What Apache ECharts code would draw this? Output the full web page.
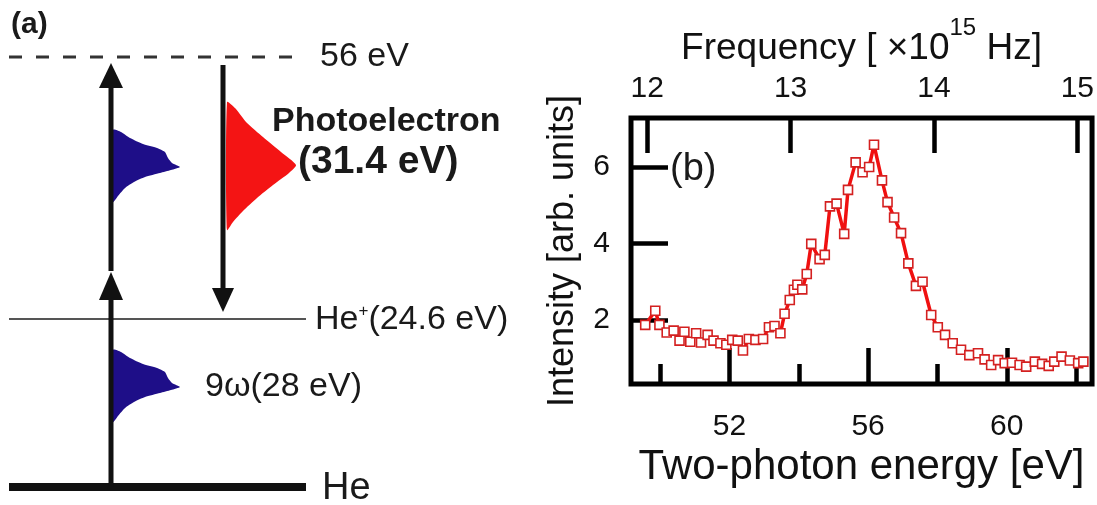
<!DOCTYPE html>
<html><head><meta charset="utf-8">
<script src="https://cdn.jsdelivr.net/npm/echarts@6/dist/echarts.min.js"></script>
<style>html,body{margin:0;padding:0;background:#fff}#c{width:1097px;height:505px}</style>
</head><body><div id="c"></div>
<script>
// ---------- Panel (b) data ----------
const energy = [49.57,49.86,49.98,50.19,50.39,50.56,50.70,50.87,51.04,51.18,51.37,51.54,51.74,51.91,52.08,52.24,52.39,52.56,52.75,52.97,53.14,53.30,53.47,53.59,53.74,53.86,53.96,54.10,54.23,54.36,54.60,54.75,54.90,55.09,55.31,55.42,55.64,55.84,56.03,56.17,56.40,56.56,56.75,56.95,57.16,57.38,57.57,57.82,58.01,58.22,58.44,58.68,58.92,59.17,59.36,59.55,59.75,59.94,60.15,60.37,60.56,60.81,61.02,61.21,61.37,61.58,61.82,62.06,62.21];
const intensity = [1.87,2.24,1.87,1.67,1.72,1.46,1.69,1.43,1.65,1.41,1.61,1.46,1.39,1.35,1.48,1.46,1.20,1.50,1.48,1.50,1.81,1.84,1.65,2.16,2.52,2.79,2.92,2.80,3.20,3.99,3.59,3.70,4.97,5.04,4.25,5.40,6.12,5.86,6.00,6.58,5.65,5.08,4.68,4.27,3.48,2.89,3.00,2.13,1.81,1.61,1.39,1.22,1.08,1.13,0.97,0.82,0.95,0.87,0.88,0.82,0.78,0.91,0.85,0.80,0.91,1.04,0.94,0.87,0.91];
const energyMajorTicks = [52, 56, 60];
const energyMinorTicks = [50, 54, 58, 62];
const intensityTicks = [2, 4, 6];
const freqTicks = [12, 13, 14, 15];
const H_EV_PER_PHZ = 4.135667; // eV per 10^15 Hz
const energyRange = [49.16, 62.46];
const intensityRange = [0.325, 7.28];

// ---------- Panel (a) schematic data (diagram units) ----------
const levelNames = ['He', 'He+', '56 eV'];
const levelHeights = [0, 168, 430];
const arrowX = [111, 111, 223];
const arrowFrom = [0, 216, 422];
const arrowTo = [215, 424, 175];
const blueProfile = [[-37,0],[-35,8],[-29,17],[-23,30],[-19,44],[-15,52],[-9,55],[-4,59],[0,67],[3,58],[6,47],[10,32],[15,21],[21,12],[29,5],[35,0]];
const redProfile = [[-63,0],[-57,8],[-42,20],[-28,36],[-13,54],[0,69],[8,62],[20,46],[33,30],[46,16],[57,6],[65,0]];
const spectraBase = [113, 113, 227];
const spectraPeak = [320, 100, 322];
const spectraProfile = [0, 0, 1];

const FONT = 'Liberation Sans, Arial, Helvetica, sans-serif';
const profiles = [blueProfile, redProfile];
const spectraColors = ['#1e0e88', '#f41414'];
const levelStyles = [
  {stroke:'#111', lineWidth:8},
  {stroke:'#555', lineWidth:2},
  {stroke:'#333', lineWidth:3, lineDash:[13,14]}
];
const levelSpan = [9, 306];
const headLen = [28, 25, 24];
const headWid = [24, 24, 22];

const chart = echarts.init(document.getElementById('c'), null, {renderer:'canvas'});

const tickStyle = {color:'#000', width:4.5};
const option = {
  animation: false,
  backgroundColor: '#fff',
  grid: [
    {left:631, top:118, width:462, height:266, show:true, borderColor:'#000', borderWidth:5, backgroundColor:'transparent'},
    {left:0, top:0, width:560, height:505, show:false}
  ],
  xAxis: [
    {type:'value', gridIndex:0, position:'bottom', min:energyRange[0], max:energyRange[1],
     axisLine:{show:false}, splitLine:{show:false},
     axisTick:{show:true, inside:true, length:36, customValues:energyMajorTicks, lineStyle:tickStyle},
     axisLabel:{show:true, customValues:energyMajorTicks, fontSize:30, color:'#111', fontFamily:FONT, margin:28},
     name:'Two-photon energy [eV]', nameLocation:'middle', nameGap:61,
     nameTextStyle:{fontSize:42, color:'#111', fontFamily:FONT}},
    {type:'value', gridIndex:0, position:'bottom', min:energyRange[0], max:energyRange[1],
     axisLine:{show:false}, splitLine:{show:false},
     axisTick:{show:true, inside:true, length:20, customValues:energyMinorTicks, lineStyle:tickStyle},
     axisLabel:{show:false}},
    {type:'value', gridIndex:0, position:'top', min:energyRange[0]/H_EV_PER_PHZ, max:energyRange[1]/H_EV_PER_PHZ,
     axisLine:{show:false}, splitLine:{show:false},
     axisTick:{show:true, inside:true, length:35, customValues:freqTicks, lineStyle:tickStyle},
     axisLabel:{show:true, customValues:freqTicks, fontSize:30, color:'#111', fontFamily:FONT, margin:14},
     name:'{m|Frequency [ ×10}{s|15}{m| Hz]}', nameLocation:'middle', nameGap:36,
     nameTextStyle:{rich:{
       m:{fontSize:37, lineHeight:66, color:'#111', fontFamily:FONT},
       s:{fontSize:24, verticalAlign:'top', color:'#111', fontFamily:FONT}
     }}},
    {type:'value', gridIndex:1, min:0, max:560, show:false}
  ],
  yAxis: [
    {type:'value', gridIndex:0, min:intensityRange[0], max:intensityRange[1],
     axisLine:{show:false}, splitLine:{show:false},
     axisTick:{show:true, inside:true, length:37, customValues:intensityTicks, lineStyle:tickStyle},
     axisLabel:{show:true, customValues:intensityTicks, fontSize:30, color:'#111', fontFamily:FONT, margin:21, padding:[8,0,0,0]},
     name:'Intensity [arb. units]', nameLocation:'middle', nameGap:50, nameRotate:90,
     nameTextStyle:{fontSize:36, color:'#111', fontFamily:FONT}},
    {type:'value', gridIndex:1, min:-18, max:487, show:false}
  ],
  series: [
    {type:'line', xAxisIndex:0, yAxisIndex:0, data: energy.map((e,i)=>[e, intensity[i]]),
     symbol:'rect', symbolSize:9, showAllSymbol:true,
     itemStyle:{color:'#fff', borderColor:'#d42020', borderWidth:1.6},
     lineStyle:{color:'#f01010', width:3.5}, emphasis:{disabled:true}, z:3},
    {type:'custom', coordinateSystem:'cartesian2d', xAxisIndex:3, yAxisIndex:1,
     data: levelHeights.map((h,i)=>[h, i]),
     renderItem:(params, api)=>{
       const y = api.value(0); const i = params.dataIndex;
       const p1 = api.coord([levelSpan[0], y]); const p2 = api.coord([levelSpan[1], y]);
       return {type:'line', shape:{x1:p1[0], y1:p1[1], x2:p2[0], y2:p2[1]}, style:levelStyles[i]};
     }},
    {type:'custom', coordinateSystem:'cartesian2d', xAxisIndex:3, yAxisIndex:1,
     data: spectraBase.map((b,i)=>[b, spectraPeak[i], spectraProfile[i]]),
     renderItem:(params, api)=>{
       const bx = api.value(0), py = api.value(1), pi = api.value(2);
       const pts = profiles[pi].map(([dy,w])=>api.coord([bx + w, py - dy]));
       return {type:'polygon', shape:{points:pts, smooth:0.2}, style:{fill:spectraColors[pi]}};
     }},
    {type:'custom', coordinateSystem:'cartesian2d', xAxisIndex:3, yAxisIndex:1,
     data: arrowX.map((x,i)=>[x, arrowFrom[i], arrowTo[i]]),
     renderItem:(params, api)=>{
       const i = params.dataIndex;
       const x = api.value(0), y0 = api.value(1), y1 = api.value(2);
       const dir = y1 > y0 ? 1 : -1;
       const hl = headLen[i], hw = headWid[i];
       const ps = api.coord([x, y0]), pb = api.coord([x, y1 - dir*hl*0.8]);
       const pt = api.coord([x, y1]);
       const pl = api.coord([x - hw/2, y1 - dir*hl]), pr = api.coord([x + hw/2, y1 - dir*hl]);
       return {type:'group', children:[
         {type:'line', shape:{x1:ps[0], y1:ps[1], x2:pb[0], y2:pb[1]}, style:{stroke:'#111', lineWidth:5}},
         {type:'polygon', shape:{points:[pt, pl, pr]}, style:{fill:'#111'}}
       ]};
     }}
  ],
  graphic: [
    {type:'text', x:11, y:25, style:{text:'(a)', font:'bold 30px '+FONT, fill:'#1a1a1a', verticalAlign:'middle'}},
    {type:'text', x:320, y:57, style:{text:'56 eV', font:'34px '+FONT, fill:'#1a1a1a', verticalAlign:'middle'}},
    {type:'text', x:272, y:122, style:{text:'Photoelectron', font:'bold 34px '+FONT, fill:'#1a1a1a', verticalAlign:'middle'}},
    {type:'text', x:298, y:162, style:{text:'(31.4 eV)', font:'bold 39px '+FONT, fill:'#1a1a1a', verticalAlign:'middle'}},
    {type:'text', x:315, y:320, style:{text:'{a|He}{p|+}{a|(24.6 eV)}', verticalAlign:'middle',
      rich:{a:{fontSize:34, fontFamily:FONT, fill:'#1a1a1a', color:'#1a1a1a'}, p:{fontSize:17, fontFamily:FONT, color:'#1a1a1a', fill:'#1a1a1a', verticalAlign:'top'}}}},
    {type:'text', x:205, y:387, style:{text:'9ω(28 eV)', font:'34px '+FONT, fill:'#1a1a1a', verticalAlign:'middle'}},
    {type:'text', x:322, y:489, style:{text:'He', font:'38px '+FONT, fill:'#1a1a1a', verticalAlign:'middle'}},
    {type:'text', x:670, y:170, style:{text:'(b)', font:'38px '+FONT, fill:'#1a1a1a', verticalAlign:'middle'}}
  ]
};
chart.setOption(option);
</script></body></html>
